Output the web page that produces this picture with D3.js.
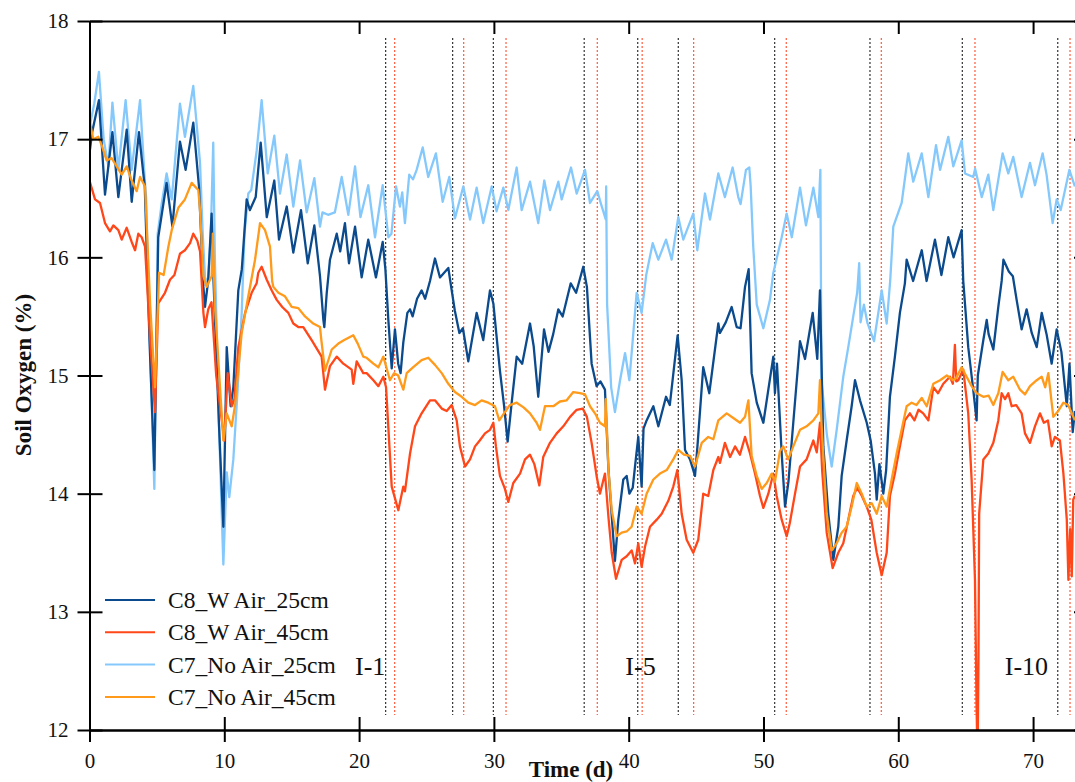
<!DOCTYPE html>
<html>
<head>
<meta charset="utf-8">
<script src="https://cdn.jsdelivr.net/npm/d3@7"></script>
<style>
  body { margin: 0; background: #fff; }
  text { font-family: "Liberation Serif", "Times New Roman", serif; }
</style>
</head>
<body>
<svg width="1075" height="782"></svg>
<script>
// day, O2 %
var c8w25 = [[0,16.88],[0.2,17.06],[0.7,17.33],[1.15,16.53],[1.7,17.06],[2.14,16.51],[2.76,17.08],[3.13,16.47],[3.67,17.06],[3.99,16.71],[4.1,16.6],[4.45,15.3],[4.81,14.2],[5.0,15.5],[5.1,16.17],[5.72,16.63],[6.15,16.26],[6.71,16.98],[7.13,16.74],[7.7,17.14],[8.12,16.6],[8.45,15.75],[8.57,15.58],[8.8,15.8],[9.06,16.37],[9.2,15.8],[9.6,14.6],[9.93,13.72],[10.18,15.24],[10.47,14.74],[10.67,14.9],[11.04,15.72],[11.3,15.9],[11.66,16.49],[11.9,16.4],[12.33,16.51],[12.7,16.97],[13.15,16.34],[13.71,16.65],[14.06,16.15],[14.63,16.43],[15.12,16.04],[15.69,16.4],[16.19,15.95],[16.68,16.27],[17.1,15.84],[17.35,15.47],[17.42,15.41],[17.6,15.7],[17.84,15.98],[18.34,16.2],[18.6,16.05],[18.95,16.29],[19.25,15.95],[19.7,16.26],[20.19,15.83],[20.68,16.15],[21.25,15.83],[21.75,16.13],[21.95,15.9],[22.17,15.47],[22.42,15.06],[22.66,15.39],[22.9,15.1],[23.08,15.02],[23.28,15.28],[23.58,15.53],[23.78,15.56],[23.97,15.5],[24.3,15.65],[24.64,15.72],[24.9,15.65],[25.26,15.8],[25.63,15.99],[26.0,15.83],[26.62,15.91],[26.87,15.72],[27.1,15.55],[27.44,15.36],[27.7,15.4],[28.1,15.12],[28.72,15.53],[29.21,15.3],[29.71,15.72],[29.96,15.61],[30.45,15.04],[30.75,14.75],[31.02,14.44],[31.32,14.77],[31.69,15.16],[32.1,15.1],[32.68,15.44],[32.95,15.25],[33.29,14.82],[33.72,15.39],[34.05,15.2],[34.4,15.35],[34.78,15.56],[35.1,15.5],[35.7,15.78],[36.1,15.7],[36.63,15.92],[36.9,15.75],[37.25,15.1],[37.62,14.91],[37.9,14.95],[38.24,14.88],[38.5,14.2],[38.98,13.43],[39.23,13.78],[39.6,14.12],[39.85,14.15],[40.05,14.0],[40.3,14.05],[40.47,14.23],[40.71,14.48],[40.96,14.06],[41.1,14.55],[41.33,14.62],[41.83,14.74],[42.2,14.57],[42.77,14.82],[43.05,14.75],[43.63,15.34],[43.93,14.96],[44.18,14.37],[44.55,14.29],[44.92,14.15],[45.1,14.4],[45.53,15.07],[45.98,14.85],[46.65,15.44],[46.77,15.36],[47.2,15.45],[47.64,15.58],[48.01,15.41],[48.3,15.4],[48.63,15.75],[48.9,15.9],[49.0,15.5],[49.12,15.02],[49.5,14.77],[49.99,14.6],[50.36,14.88],[50.73,15.16],[50.85,14.85],[51.0,15.1],[51.35,14.34],[51.6,13.89],[51.85,14.1],[52.21,14.6],[52.71,15.29],[53.08,15.14],[53.65,15.53],[53.99,15.14],[54.19,15.72],[54.44,14.4],[54.81,13.83],[55.18,13.44],[55.55,13.72],[55.8,14.15],[56.17,14.45],[56.54,14.74],[56.79,14.96],[57.16,14.79],[57.66,14.6],[57.95,14.45],[58.27,14.17],[58.4,13.95],[58.6,14.25],[58.89,14.0],[59.1,14.2],[59.38,14.82],[59.75,15.16],[60.12,15.53],[60.49,15.78],[60.62,15.98],[61.1,15.8],[61.74,16.06],[62.1,15.8],[62.72,16.15],[63.2,15.85],[63.71,16.17],[64.1,16.0],[64.7,16.23],[64.82,15.8],[65.19,15.24],[65.56,14.88],[65.81,14.62],[65.9,15.0],[66.31,15.3],[66.56,15.47],[66.7,15.35],[67.05,15.22],[67.42,15.58],[67.67,15.8],[67.8,15.98],[68.2,15.88],[68.5,15.84],[68.78,15.64],[69.15,15.39],[69.52,15.56],[69.9,15.36],[70.27,15.24],[70.64,15.53],[71.0,15.35],[71.38,15.1],[71.75,15.39],[72.1,15.2],[72.5,14.74],[72.7,15.1],[72.94,14.52],[73.1,14.7]];

var c8w45 = [[0,16.65],[0.41,16.49],[0.78,16.46],[1.15,16.29],[1.52,16.22],[1.77,16.27],[2.14,16.23],[2.39,16.15],[2.76,16.25],[3.13,16.13],[3.38,16.06],[3.62,16.2],[3.87,16.17],[4.12,16.09],[4.5,15.3],[4.86,14.69],[5.1,15.61],[5.6,15.7],[5.97,15.81],[6.3,15.85],[6.71,16.03],[7.08,16.06],[7.46,16.12],[7.7,16.2],[8.0,16.14],[8.2,16.05],[8.45,15.53],[8.57,15.41],[8.81,15.56],[9.05,15.62],[9.4,15.0],[10.0,14.45],[10.25,15.02],[10.55,14.74],[10.75,14.8],[11.04,15.24],[11.54,15.53],[12.03,15.7],[12.4,15.78],[12.52,15.87],[12.77,15.92],[13.15,15.81],[13.52,15.72],[13.89,15.64],[14.3,15.58],[14.75,15.53],[15.12,15.44],[15.49,15.41],[15.86,15.41],[16.48,15.3],[17.22,15.16],[17.47,14.88],[17.84,15.08],[18.34,15.16],[18.83,15.1],[19.45,15.05],[19.57,14.93],[19.82,15.12],[20.31,15.02],[20.56,15.02],[21.06,14.96],[21.43,14.91],[21.8,14.99],[22.0,14.9],[22.42,14.06],[22.91,13.86],[23.28,14.06],[23.4,14.02],[23.78,14.34],[24.15,14.57],[24.64,14.68],[25.26,14.79],[25.63,14.79],[26.13,14.72],[26.5,14.7],[26.87,14.75],[27.24,14.62],[27.48,14.4],[27.86,14.23],[28.23,14.29],[28.6,14.4],[28.95,14.45],[29.34,14.51],[29.71,14.54],[29.96,14.6],[30.15,14.4],[30.45,14.15],[30.82,14.04],[31.07,13.93],[31.44,14.09],[31.94,14.17],[32.31,14.29],[32.68,14.33],[33.0,14.25],[33.37,14.07],[33.66,14.31],[34.16,14.43],[34.66,14.51],[35.15,14.57],[35.65,14.65],[36.14,14.71],[36.59,14.72],[36.9,14.65],[37.25,14.43],[37.62,14.15],[37.87,14.0],[38.24,14.17],[38.5,13.8],[38.74,13.5],[39.06,13.28],[39.48,13.44],[39.85,13.47],[40.22,13.52],[40.47,13.41],[40.71,13.58],[40.96,13.38],[41.21,13.55],[41.58,13.72],[42.08,13.78],[42.45,13.83],[42.94,13.94],[43.31,14.06],[43.61,14.2],[43.93,13.83],[44.3,13.61],[44.79,13.5],[45.16,13.61],[45.53,14.0],[45.9,13.98],[46.28,14.2],[46.65,14.31],[46.77,14.26],[47.14,14.43],[47.52,14.31],[47.89,14.4],[48.25,14.33],[48.63,14.48],[49.0,14.34],[49.37,14.17],[49.74,13.98],[49.99,13.88],[50.36,14.0],[50.73,14.17],[50.98,13.98],[51.35,13.78],[51.72,13.64],[51.95,13.75],[52.34,14.0],[52.71,14.23],[53.2,14.29],[53.7,14.45],[53.95,14.35],[54.19,14.6],[54.35,14.2],[54.69,13.67],[55.13,13.37],[55.55,13.5],[55.92,13.58],[56.29,13.78],[56.66,13.98],[56.95,14.05],[57.3,13.98],[57.66,13.89],[58.0,13.78],[58.4,13.5],[58.77,13.31],[59.14,13.5],[59.38,13.98],[59.75,14.17],[60.12,14.4],[60.49,14.62],[60.86,14.68],[61.2,14.62],[61.5,14.71],[61.85,14.68],[62.23,14.62],[62.6,14.9],[62.95,14.85],[63.34,14.93],[63.83,14.99],[64.05,14.93],[64.2,15.26],[64.3,14.95],[64.45,14.96],[64.82,15.05],[65.19,14.68],[65.44,14.12],[65.69,13.27],[65.81,12.2],[65.88,11.7],[65.95,12.6],[66.0,13.83],[66.31,14.29],[66.68,14.34],[67.05,14.43],[67.42,14.62],[67.67,14.85],[67.92,14.8],[68.16,14.85],[68.41,14.74],[68.75,14.75],[69.15,14.68],[69.4,14.51],[69.77,14.43],[70.14,14.57],[70.51,14.68],[70.8,14.6],[71.1,14.62],[71.38,14.4],[71.62,14.48],[71.99,14.45],[72.25,14.17],[72.5,13.78],[72.62,13.27],[72.75,13.7],[72.87,13.3],[72.98,13.95],[73.1,13.98]];

var c7n25 = [[0,17.1],[0.35,17.3],[0.7,17.57],[1.05,17.0],[1.4,16.77],[1.7,17.31],[2.14,16.74],[2.68,17.33],[3.13,16.74],[3.75,17.33],[4.07,16.71],[4.2,16.5],[4.5,15.2],[4.81,14.04],[5.0,15.6],[5.06,16.2],[5.35,16.45],[5.72,16.71],[6.1,16.49],[6.71,17.3],[7.08,17.02],[7.7,17.45],[8.2,16.8],[8.4,16.2],[8.57,15.83],[8.8,15.78],[9.0,16.2],[9.18,16.97],[9.3,16.0],[9.6,14.6],[9.93,13.4],[10.18,14.18],[10.37,13.97],[10.67,14.29],[11.0,14.9],[11.29,15.53],[11.5,16.2],[11.78,16.54],[12.0,16.57],[12.4,16.9],[12.77,17.33],[13.22,16.71],[13.71,17.03],[14.13,16.54],[14.63,16.87],[15.12,16.43],[15.62,16.82],[16.11,16.38],[16.68,16.67],[17.1,16.26],[17.28,16.38],[17.7,16.36],[18.2,16.38],[18.71,16.68],[19.2,16.36],[19.7,16.77],[20.1,16.34],[20.68,16.61],[21.18,16.17],[21.75,16.61],[22.17,16.17],[22.4,16.2],[22.74,16.6],[23.03,16.43],[23.2,16.55],[23.4,16.29],[23.72,16.7],[24.0,16.66],[24.27,16.74],[24.72,16.93],[25.13,16.68],[25.7,16.88],[26.2,16.47],[26.69,16.68],[27.11,16.33],[27.73,16.6],[28.23,16.32],[28.72,16.59],[29.21,16.29],[29.84,16.6],[30.2,16.39],[30.7,16.59],[31.07,16.4],[31.69,16.76],[32.06,16.4],[32.68,16.64],[33.29,16.29],[33.74,16.65],[34.16,16.4],[34.78,16.64],[35.03,16.49],[35.72,16.76],[36.14,16.54],[36.76,16.74],[37.13,16.46],[37.67,16.56],[37.95,16.45],[38.3,16.32],[38.33,16.6],[38.4,15.6],[38.7,14.9],[38.98,14.69],[39.36,14.96],[39.73,15.19],[40.05,14.96],[40.3,15.3],[40.59,15.7],[40.96,15.53],[41.3,15.85],[41.78,16.12],[42.2,15.98],[42.77,16.15],[43.19,15.98],[43.68,16.34],[44.05,16.15],[44.79,16.37],[45.09,16.06],[45.66,16.54],[46.03,16.32],[46.65,16.71],[47.14,16.51],[47.71,16.76],[48.13,16.51],[48.3,16.45],[48.7,16.74],[48.95,16.76],[49.05,16.6],[49.24,16.09],[49.5,15.6],[49.99,15.4],[50.48,15.64],[50.73,15.87],[51.35,16.17],[51.72,16.37],[52.1,16.17],[52.71,16.59],[53.15,16.27],[53.7,16.59],[54.07,16.34],[54.22,16.74],[54.3,14.96],[54.7,14.5],[55.06,14.23],[55.43,14.54],[55.92,14.99],[56.29,15.24],[56.66,15.5],[56.95,15.7],[57.1,15.95],[57.2,15.45],[57.45,15.6],[57.7,15.45],[58.2,15.29],[58.77,15.72],[59.14,15.44],[59.4,15.8],[59.63,16.26],[60.25,16.46],[60.74,16.88],[61.11,16.64],[61.74,16.88],[62.23,16.51],[62.8,16.95],[63.1,16.74],[63.71,17.02],[64.08,16.77],[64.7,16.99],[64.95,16.71],[65.56,16.68],[65.7,16.75],[66.19,16.51],[66.68,16.7],[67.05,16.4],[67.74,16.88],[68.16,16.71],[68.53,16.85],[69.15,16.51],[69.77,16.8],[70.14,16.61],[70.71,16.88],[71.0,16.7],[71.45,16.29],[71.75,16.49],[72.05,16.4],[72.69,16.74],[73.1,16.6]];

var c7n45 = [[0,17.16],[0.28,17.0],[0.65,17.02],[0.9,16.95],[1.27,16.82],[1.64,16.84],[2.02,16.77],[2.39,16.7],[2.76,16.77],[3.13,16.65],[3.5,16.56],[3.75,16.68],[4.12,16.6],[4.5,15.6],[4.86,14.9],[5.05,15.5],[5.16,15.87],[5.5,15.85],[5.85,16.09],[6.1,16.23],[6.59,16.42],[7.08,16.49],[7.58,16.63],[8.07,16.57],[8.2,16.4],[8.45,15.84],[8.69,15.75],[9.06,15.84],[9.15,16.2],[9.3,15.6],[9.93,14.45],[10.18,14.68],[10.55,14.57],[10.8,14.75],[11.29,15.36],[11.78,15.67],[12.28,15.98],[12.65,16.29],[13.02,16.23],[13.39,16.09],[13.55,15.8],[13.64,15.75],[14.01,15.7],[14.5,15.67],[15.0,15.58],[15.49,15.57],[15.99,15.5],[16.6,15.44],[17.1,15.41],[17.2,15.3],[17.47,15.04],[17.97,15.22],[18.46,15.27],[18.9,15.3],[19.57,15.34],[19.9,15.27],[20.31,15.16],[20.56,15.15],[21.06,15.1],[21.43,15.07],[21.8,15.16],[22.29,14.96],[22.6,15.02],[22.9,15.0],[23.28,14.88],[23.53,15.02],[24.02,15.07],[24.64,15.13],[25.13,15.15],[25.63,15.09],[26.13,15.02],[26.62,14.93],[27.11,14.86],[27.61,14.82],[28.1,14.77],[28.6,14.75],[29.09,14.79],[29.58,14.77],[30.08,14.74],[30.4,14.62],[30.75,14.68],[31.19,14.75],[31.69,14.77],[32.2,14.73],[32.68,14.68],[33.17,14.6],[33.42,14.54],[33.79,14.74],[34.41,14.74],[34.9,14.78],[35.4,14.79],[35.89,14.86],[36.39,14.85],[36.76,14.84],[37.13,14.74],[37.5,14.68],[37.87,14.6],[38.24,14.57],[38.3,14.8],[38.5,14.2],[38.74,13.86],[39.11,13.64],[39.48,13.67],[39.85,13.68],[40.22,13.72],[40.59,13.89],[40.96,13.83],[41.33,14.0],[41.83,14.12],[42.32,14.17],[42.82,14.2],[43.31,14.29],[43.68,14.37],[44.1,14.33],[44.55,14.32],[44.92,14.23],[45.42,14.43],[45.9,14.48],[46.28,14.46],[46.65,14.62],[47.27,14.68],[47.76,14.64],[48.26,14.6],[48.63,14.65],[48.88,14.79],[49.12,14.32],[49.5,14.15],[49.87,14.04],[50.24,14.09],[50.61,14.17],[50.85,14.1],[51.22,14.36],[51.47,14.4],[51.84,14.29],[52.21,14.4],[52.71,14.54],[53.2,14.57],[53.7,14.62],[54.07,14.68],[54.19,14.96],[54.3,14.6],[54.69,13.83],[55.06,13.52],[55.43,13.58],[55.8,13.67],[56.17,13.72],[56.54,13.89],[56.92,14.09],[57.29,14.0],[57.66,13.89],[58.03,13.92],[58.4,13.83],[58.77,13.98],[59.14,13.89],[59.51,14.12],[59.88,14.34],[60.25,14.54],[60.62,14.74],[60.99,14.77],[61.35,14.75],[61.74,14.81],[62.11,14.74],[62.6,14.93],[63.1,14.96],[63.6,15.0],[64.08,14.96],[64.3,14.98],[64.7,15.07],[65.07,14.99],[65.44,14.91],[65.81,14.85],[66.31,14.82],[66.7,14.83],[67.05,14.75],[67.42,14.85],[67.74,15.03],[68.16,14.96],[68.53,14.99],[69.03,14.88],[69.4,14.84],[69.77,14.91],[70.27,14.96],[70.64,14.99],[70.9,14.9],[71.13,15.02],[71.5,14.65],[71.87,14.7],[72.25,14.77],[72.6,14.75],[73.1,14.62]];

var seriesNames = ["C8_W Air_25cm", "C8_W Air_45cm", "C7_No Air_25cm", "C7_No Air_45cm"];
var seriesColors = ["#0b4a8c", "#ff4719", "#85c9fc", "#ff9a1a"];

// irrigation events (black = one treatment, red = the other)
var eventsBlack = [21.97, 26.94, 29.96, 36.7, 40.67, 43.68, 50.83, 57.9, 64.75, 71.83];
var eventsRed = [22.64, 27.76, 30.9, 37.67, 41.0, 44.82, 51.69, 58.74, 65.69, 72.74];
var eventLabels = [{t: "I-1", d: 19.7}, {t: "I-5", d: 39.75}, {t: "I-10", d: 67.9}];

var xTicks = [0, 10, 20, 30, 40, 50, 60, 70];
var yTicks = [12, 13, 14, 15, 16, 17, 18];

(function() {
  var svg = d3.select("svg");
  svg.append("rect").attr("width", 1075).attr("height", 782).attr("fill", "#fff");

  var m = {left: 89.5, right: 1087, top: 21, bottom: 730};
  var x = d3.scaleLinear().domain([0, 74]).range([m.left, m.right]);
  var y = d3.scaleLinear().domain([12, 18]).range([m.bottom, m.top]);

  svg.append("clipPath").attr("id", "plot")
    .append("rect").attr("x", m.left).attr("y", m.top)
    .attr("width", m.right - m.left).attr("height", m.bottom - m.top);

  // dotted event lines
  var ev = svg.append("g");
  ev.selectAll(".eb").data(eventsBlack).enter().append("line")
    .attr("x1", d => x(d)).attr("x2", d => x(d)).attr("y1", 38).attr("y2", 715)
    .attr("stroke", "#333").attr("stroke-width", 1.2).attr("stroke-dasharray", "2,2");
  ev.selectAll(".er").data(eventsRed).enter().append("line")
    .attr("x1", d => x(d)).attr("x2", d => x(d)).attr("y1", 38).attr("y2", 715)
    .attr("stroke", "#ff5a3a").attr("stroke-width", 1.2).attr("stroke-dasharray", "2,2");

  var line = d3.line().x(d => x(d[0])).y(d => y(d[1]));
  var data = [c8w25, c8w45, c7n25, c7n45];
  var order = [2, 0, 1, 3];
  var g = svg.append("g").attr("clip-path", "url(#plot)");
  order.forEach(function(i) {
    g.append("path").datum(data[i])
      .attr("d", line)
      .attr("fill", "none")
      .attr("stroke", seriesColors[i])
      .attr("stroke-width", 2.3)
      .attr("stroke-linejoin", "round");
  });

  // axes
  var fmt = d3.format("d");
  function style(a) {
    a.selectAll("path, line").attr("stroke", "#000").attr("stroke-width", 2);
    a.selectAll("text").attr("font-size", 21).attr("fill", "#111")
      .attr("font-family", "Liberation Serif, Times New Roman, serif");
  }
  style(svg.append("g").attr("transform", "translate(" + m.left + ",0)")
    .call(d3.axisLeft(y).tickValues(yTicks).tickFormat(fmt).tickSize(12).tickSizeOuter(0).tickPadding(9)));
  style(svg.append("g").attr("transform", "translate(" + m.left + ",0)")
    .call(d3.axisRight(y).tickValues(yTicks).tickSize(13).tickSizeOuter(0).tickFormat("")));
  style(svg.append("g").attr("transform", "translate(" + m.right + ",0)")
    .call(d3.axisLeft(y).tickValues(yTicks).tickSize(13).tickSizeOuter(0).tickFormat("")));
  style(svg.append("g").attr("transform", "translate(0," + m.bottom + ")")
    .call(d3.axisBottom(x).tickValues(xTicks).tickFormat(fmt).tickSize(12).tickSizeOuter(0).tickPadding(11)));
  style(svg.append("g").attr("transform", "translate(0," + m.bottom + ")")
    .call(d3.axisTop(x).tickValues(xTicks).tickSize(13).tickSizeOuter(0).tickFormat("")));
  style(svg.append("g").attr("transform", "translate(0," + m.top + ")")
    .call(d3.axisBottom(x).tickValues(xTicks).tickSize(13).tickSizeOuter(0).tickFormat("")));

  // axis titles
  svg.append("text").attr("transform", "rotate(-90)")
    .attr("x", -375).attr("y", 31).attr("text-anchor", "middle")
    .attr("font-size", 23).attr("font-weight", "bold").attr("fill", "#111")
    .text("Soil Oxygen (%)");
  svg.append("text").attr("x", 571).attr("y", 777).attr("text-anchor", "middle")
    .attr("font-size", 23).attr("font-weight", "bold").attr("fill", "#111")
    .text("Time (d)");

  // event labels
  svg.selectAll(".lab").data(eventLabels).enter().append("text")
    .attr("x", d => x(d.d)).attr("y", 675)
    .attr("font-size", 26).attr("fill", "#111")
    .text(d => d.t);

  // legend
  var leg = svg.append("g");
  seriesNames.forEach(function(n, i) {
    var ly = 600 + i * 32.3;
    leg.append("line").attr("x1", 105).attr("x2", 155).attr("y1", ly).attr("y2", ly)
      .attr("stroke", seriesColors[i]).attr("stroke-width", 2);
    leg.append("text").attr("x", 168).attr("y", ly + 8)
      .attr("font-size", 23.5).attr("fill", "#111").text(n);
  });
})();
</script>
</body>
</html>
